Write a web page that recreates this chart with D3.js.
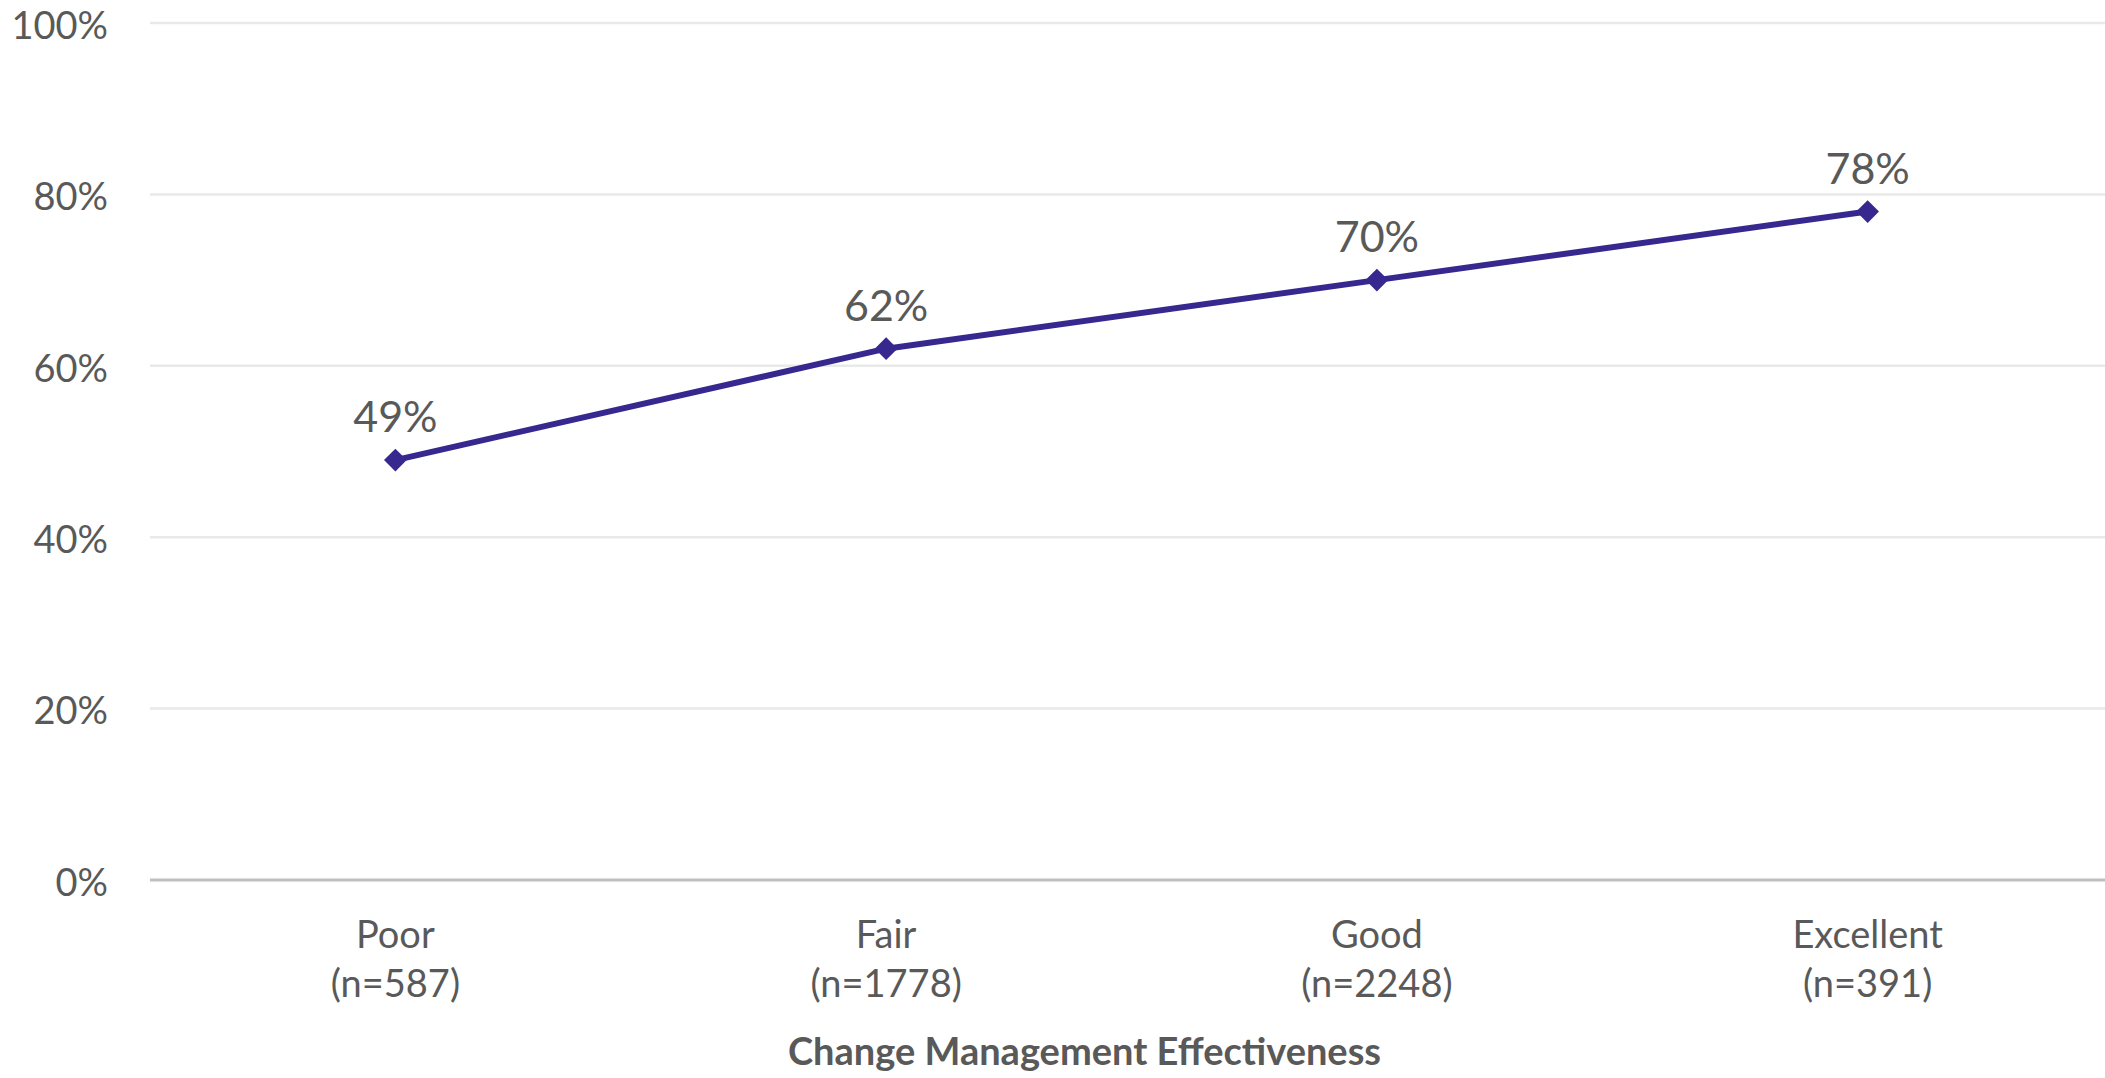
<!DOCTYPE html>
<html><head><meta charset="utf-8">
<script src="https://cdn.jsdelivr.net/npm/d3@7/dist/d3.min.js"></script>
<style>html,body{margin:0;padding:0;background:#fff;overflow:hidden}</style>
</head><body>
<svg id="chart" width="2105" height="1078"></svg>
<script>
const categories = ["Poor", "Fair", "Good", "Excellent"];
const sampleSizes = ["(n=587)", "(n=1778)", "(n=2248)", "(n=391)"];
const values = [49, 62, 70, 78];
const yTicks = [0, 20, 40, 60, 80, 100];
const xTitle = "Change Management Effectiveness";

const svg = d3.select("#chart");
const mLeft = 150, mRight = 2105 + 8, mTop = 23, mBottom = 880;
const font = "Lato, 'Open Sans', sans-serif";

const x = d3.scalePoint().domain(categories).range([mLeft, mRight]).padding(0.5);
const y = d3.scaleLinear().domain([0, 100]).range([mBottom, mTop]);

// gridlines
svg.append("g").selectAll("line").data(yTicks.filter(d => d > 0)).join("line")
  .attr("x1", mLeft).attr("x2", 2105)
  .attr("y1", d => y(d)).attr("y2", d => y(d))
  .attr("stroke", "#e9e9e9").attr("stroke-width", 2.5);

// y axis labels
const yAxis = d3.axisLeft(y).tickValues(yTicks).tickFormat(d => d + "%").tickSize(0).tickPadding(42);
const gy = svg.append("g").attr("transform", `translate(${mLeft},0)`).call(yAxis);
gy.select(".domain").remove();
gy.selectAll("text").attr("font-family", font).attr("font-size", 38).attr("fill", "#595959")
  .attr("dy", "0.4em");

// x axis baseline
const xAxis = d3.axisBottom(x).tickSize(0).tickFormat("");
const gx = svg.append("g").attr("transform", `translate(0,${mBottom})`).call(xAxis);
gx.select(".domain").attr("stroke", "#bfbfbf").attr("stroke-width", 3)
  .attr("d", `M${mLeft},0H2105`);

// category labels
const cl = svg.append("g").selectAll("text").data(categories).join("text")
  .attr("x", d => x(d)).attr("text-anchor", "middle")
  .attr("font-family", font).attr("font-size", 38).attr("fill", "#595959");
cl.append("tspan").attr("x", d => x(d)).attr("y", 948).text(d => d);
cl.append("tspan").attr("x", d => x(d)).attr("y", 997).text((d, i) => sampleSizes[i]);

// axis title
svg.append("text").attr("x", (mLeft + 2105) / 2 - 43).attr("y", 1065)
  .attr("text-anchor", "middle").attr("font-family", font).attr("font-weight", "bold")
  .attr("font-size", 38).attr("fill", "#595959").text(xTitle);

// line
const line = d3.line().x((d, i) => x(categories[i])).y(d => y(d));
svg.append("path").datum(values).attr("d", line)
  .attr("fill", "none").attr("stroke", "#36288f").attr("stroke-width", 6).attr("stroke-linejoin", "round");

// markers
svg.append("g").selectAll("path").data(values).join("path")
  .attr("transform", (d, i) => `translate(${x(categories[i])},${y(d)})`)
  .attr("d", d3.symbol().type(d3.symbolDiamond2).size(330))
  .attr("fill", "#36288f");

// data labels
svg.append("g").selectAll("text").data(values).join("text")
  .attr("x", (d, i) => x(categories[i])).attr("y", d => y(d) - 28)
  .attr("text-anchor", "middle").attr("font-family", font).attr("font-size", 43)
  .attr("fill", "#595959").text(d => d + "%");
</script>
</body></html>
